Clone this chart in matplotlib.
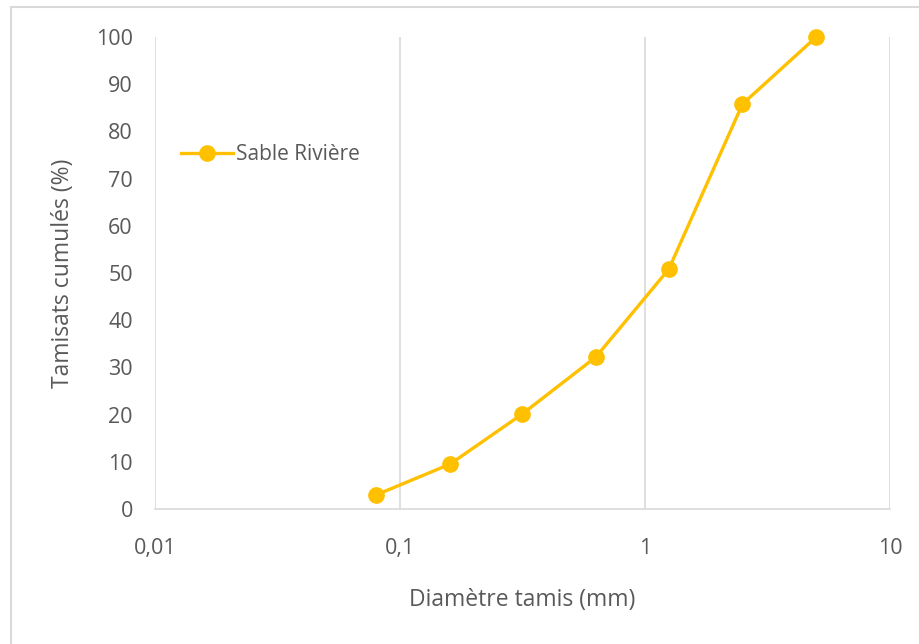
import matplotlib
import matplotlib.pyplot as plt
from matplotlib.patches import Rectangle
from matplotlib.ticker import FixedLocator, FuncFormatter

matplotlib.use("Agg")

diametres = [0.08, 0.16, 0.315, 0.63, 1.25, 2.5, 5.0]
tamisats = [3.0, 9.5, 20.1, 32.2, 50.8, 85.8, 100.0]
serie_label = "Sable Rivière"

x_ticks = [0.01, 0.1, 1, 10]
y_ticks = list(range(0, 101, 10))

orange = "#FFC000"
texte = "#595959"
grille = "#D9D9D9"

plt.rcParams["font.family"] = ["Open Sans", "DejaVu Sans"]

fig = plt.figure(figsize=(9.19, 6.44), dpi=100)
ax = fig.add_axes([155 / 919, 1 - 509 / 644, (890 - 155) / 919, (509 - 37) / 644])

# cadre gris autour du graphique
fig.patches.append(
    Rectangle((11 / 919, -0.1), 1.2, 1 - 7 / 644 + 0.1, transform=fig.transFigure,
              fill=False, edgecolor=grille, linewidth=1.5)
)

ax.plot(diametres, tamisats, color=orange, linewidth=2.4, marker="o",
        markersize=11, label=serie_label, zorder=3, clip_on=False)

ax.set_xscale("log")
ax.set_xlim(0.01, 10)
ax.set_ylim(0, 100)
ax.xaxis.set_major_locator(FixedLocator(x_ticks))
ax.xaxis.set_minor_locator(FixedLocator([]))
ax.xaxis.set_major_formatter(FuncFormatter(lambda v, _: f"{v:g}".replace(".", ",")))
ax.yaxis.set_major_locator(FixedLocator(y_ticks))

ax.grid(axis="x", color=grille, linewidth=1.2)
for side in ["top", "right", "left"]:
    ax.spines[side].set_visible(False)
ax.spines["bottom"].set_color(grille)
ax.spines["bottom"].set_linewidth(1.2)

ax.tick_params(axis="both", length=0, labelsize=15.5, colors=texte)
ax.tick_params(axis="x", pad=21)
ax.tick_params(axis="y", pad=16)

ax.set_xlabel("Diamètre tamis (mm)", fontsize=16.5, color=texte, labelpad=21)
ax.set_ylabel("Tamisats cumulés (%)", fontsize=16.5, color=texte, labelpad=15)

leg = ax.legend(loc="center left", bbox_to_anchor=(0.035, 0.75), frameon=False,
                fontsize=15, handlelength=2.5, handletextpad=0.15,
                borderpad=0, borderaxespad=0)
for t in leg.get_texts():
    t.set_color(texte)

fig.savefig("out.png", dpi=100)
